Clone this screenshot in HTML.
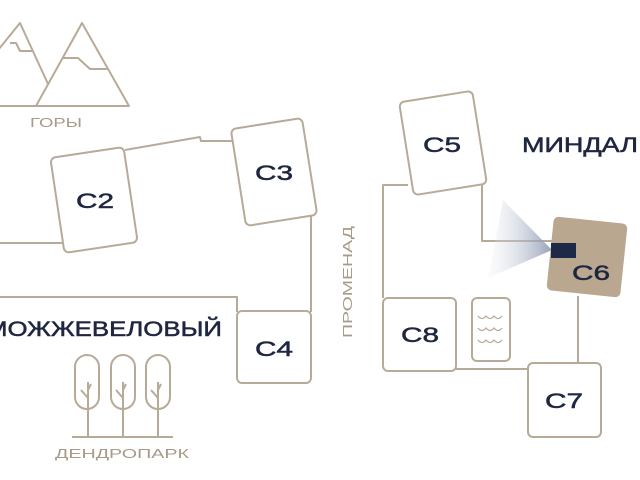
<!DOCTYPE html>
<html><head><meta charset="utf-8"><style>
html,body{margin:0;padding:0;background:#fff;}
svg{display:block;}
text{font-family:"Liberation Sans","DejaVu Sans",sans-serif;}
</style></head><body>
<svg width="640" height="480" viewBox="0 0 640 480" xmlns="http://www.w3.org/2000/svg">
<defs>
<linearGradient id="cone" x1="1" y1="0" x2="0" y2="0">
<stop offset="0" stop-color="#8592ad" stop-opacity="0.85"/>
<stop offset="1" stop-color="#e6e9f0" stop-opacity="0.15"/>
</linearGradient>
</defs>
<g fill="none" stroke="#b8aa98" stroke-width="2" stroke-linejoin="round">
<polyline points="-10,60 20,23 48,84"/>
<polyline points="36,106 82,23 129,106 0,106"/>
<polyline points="10,43 16,43 20,51 32,51"/>
<polyline points="63,58 78,58 90,69 107,69"/>
<polyline points="0,243 62,243"/>
<polyline points="125,150 200,137 201,141 233,141"/>
<polyline points="311,215 311,312"/>
<polyline points="0,297 237,297 237,312"/>
<polyline points="408,185 383,185 383,298"/>
<polyline points="482,182 482,241 552,241"/>
<polyline points="578,296 578,363"/>
<polyline points="456,369 528,369"/>
<rect x="-37" y="-48" width="74" height="96" rx="5" fill="#fff" transform="translate(94,200) rotate(-8.5)"/>
<rect x="-36" y="-49" width="72" height="98" rx="5" fill="#fff" transform="translate(274,172) rotate(-9)"/>
<rect x="237" y="311" width="74" height="72" rx="5" fill="#fff"/>
<rect x="-37" y="-47" width="74" height="94" rx="5" fill="#fff" transform="translate(443,143) rotate(-9)"/>
<rect x="383" y="298" width="73" height="73" rx="5" fill="#fff"/>
<rect x="472" y="298" width="38" height="63" rx="5" fill="#fff"/>
<rect x="528" y="363" width="73" height="74" rx="5" fill="#fff"/>
<path d="M478,316 q4,5 8,0 q4,5 8,0 q4,5 8,0 M478,328 q4,5 8,0 q4,5 8,0 q4,5 8,0 M478,340 q4,5 8,0 q4,5 8,0 q4,5 8,0" stroke-width="1.3"/>
<rect x="75" y="355" width="24" height="54" rx="12"/>
<rect x="111" y="355" width="24" height="54" rx="12"/>
<rect x="146" y="355" width="24" height="54" rx="12"/>
<path d="M88,382 V437 M88,398 l-7,-8 M88,390 l3,-6 M123,382 V437 M123,398 l-7,-8 M123,390 l3,-6 M158,382 V437 M158,398 l-7,-8 M158,390 l3,-6"/>
<line x1="72" y1="437" x2="173" y2="437"/>
</g>
<polygon points="552,250 503,200 488,278" fill="url(#cone)"/>
<rect x="-37" y="-37" width="74" height="74" rx="5" fill="#b9a790" transform="translate(587,257) rotate(6)"/>
<rect x="551" y="243" width="25" height="15" fill="#1c2a48"/>
<g fill="#1e2640" stroke="#1e2640" stroke-width="0.5" font-size="21" text-anchor="middle" lengthAdjust="spacingAndGlyphs">
<text x="95" y="208" textLength="38" lengthAdjust="spacingAndGlyphs">C2</text>
<text x="274" y="180" textLength="38" lengthAdjust="spacingAndGlyphs">C3</text>
<text x="274" y="356" textLength="38" lengthAdjust="spacingAndGlyphs">C4</text>
<text x="442" y="152" textLength="38" lengthAdjust="spacingAndGlyphs">C5</text>
<text x="591" y="280" textLength="38" lengthAdjust="spacingAndGlyphs">C6</text>
<text x="420" y="342" textLength="38" lengthAdjust="spacingAndGlyphs">C8</text>
<text x="564" y="408" textLength="38" lengthAdjust="spacingAndGlyphs">C7</text>
<text x="580" y="152" textLength="116" lengthAdjust="spacingAndGlyphs">МИНДАЛ</text>
<text x="104" y="336" textLength="236" lengthAdjust="spacingAndGlyphs">МОЖЖЕВЕЛОВЫЙ</text>
</g>
<g fill="#a89a88" font-size="13" text-anchor="middle">
<text x="56" y="127" textLength="52" lengthAdjust="spacingAndGlyphs">ГОРЫ</text>
<text x="122" y="458" textLength="134" lengthAdjust="spacingAndGlyphs">ДЕНДРОПАРК</text>
<text x="0" y="0" transform="translate(352,282) rotate(-90)" textLength="112" lengthAdjust="spacingAndGlyphs">ПРОМЕНАД</text>
</g>
</svg>
</body></html>
